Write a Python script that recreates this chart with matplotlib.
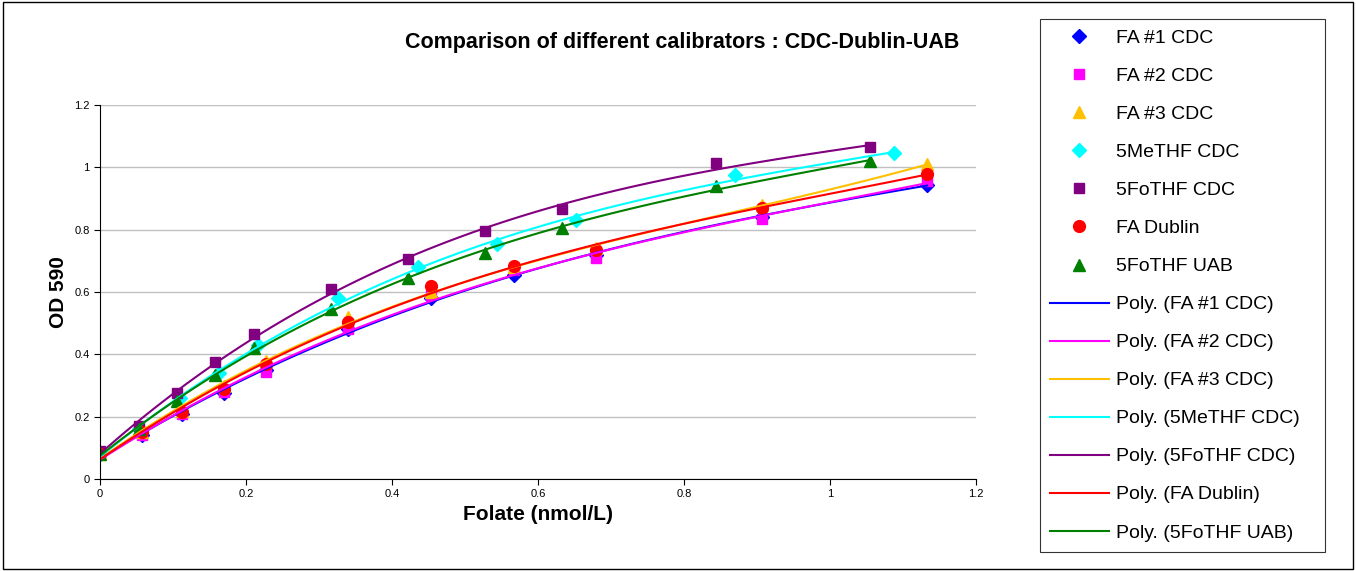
import numpy as np
import matplotlib
matplotlib.use("Agg")
import matplotlib.pyplot as plt

plt.rcParams["font.family"] = ["Liberation Sans", "DejaVu Sans"]

x_fa = [0, 0.057, 0.113, 0.17, 0.227, 0.34, 0.453, 0.567, 0.68, 0.907, 1.133]
x_me = [0, 0.054, 0.109, 0.163, 0.217, 0.326, 0.435, 0.544, 0.652, 0.87, 1.087]
x_fo = [0, 0.053, 0.105, 0.158, 0.211, 0.316, 0.422, 0.527, 0.633, 0.844, 1.055]

fa1_cdc = [0.08, 0.14, 0.21, 0.275, 0.35, 0.48, 0.58, 0.655, 0.72, 0.84, 0.945]
fa2_cdc = [0.08, 0.14, 0.21, 0.28, 0.345, 0.48, 0.59, 0.67, 0.71, 0.835, 0.955]
fa3_cdc = [0.08, 0.15, 0.22, 0.30, 0.38, 0.52, 0.60, 0.68, 0.74, 0.88, 1.01]
me_cdc = [0.08, 0.16, 0.26, 0.34, 0.43, 0.58, 0.68, 0.755, 0.83, 0.975, 1.045]
fo_cdc = [0.09, 0.17, 0.275, 0.375, 0.465, 0.61, 0.705, 0.795, 0.865, 1.015, 1.065]
fa_dublin = [0.08, 0.15, 0.215, 0.29, 0.37, 0.505, 0.62, 0.685, 0.735, 0.87, 0.98]
fo_uab = [0.08, 0.16, 0.25, 0.335, 0.42, 0.545, 0.645, 0.725, 0.805, 0.94, 1.02]

series = [
    ("FA #1 CDC", x_fa, fa1_cdc, "#0000FF", "D", 7),
    ("FA #2 CDC", x_fa, fa2_cdc, "#FF00FF", "s", 7.5),
    ("FA #3 CDC", x_fa, fa3_cdc, "#FFC000", "^", 9),
    ("5MeTHF CDC", x_me, me_cdc, "#00FFFF", "D", 7),
    ("5FoTHF CDC", x_fo, fo_cdc, "#800080", "s", 7.5),
    ("FA Dublin", x_fa, fa_dublin, "#FF0000", "o", 8.5),
    ("5FoTHF UAB", x_fo, fo_uab, "#008000", "^", 9),
]

fig = plt.figure(figsize=(13.56, 5.71), dpi=100)
ax = fig.add_axes([0.0737, 0.161, 0.6461, 0.655])

marker_handles, line_handles = [], []
for name, xs, ys, col, mk, ms in series:
    h, = ax.plot(xs, ys, linestyle="none", marker=mk, color=col, markersize=ms, label=name)
    marker_handles.append(h)
for name, xs, ys, col, mk, ms in series:
    coef = np.polyfit(xs, ys, 3)
    xx = np.linspace(0, max(xs), 100)
    h, = ax.plot(xx, np.polyval(coef, xx), color=col, lw=1.5, label=f"Poly. ({name})")
    line_handles.append(h)

ax.set_xlim(0, 1.2)
ax.set_ylim(0, 1.2)
ax.set_xticks(np.arange(0, 1.21, 0.2))
ax.set_yticks(np.arange(0, 1.21, 0.2))
ax.set_xticklabels(["0", "0.2", "0.4", "0.6", "0.8", "1", "1.2"])
ax.set_yticklabels(["0", "0.2", "0.4", "0.6", "0.8", "1", "1.2"])
ax.tick_params(labelsize=8, direction="out", length=4)
ax.grid(axis="y", color="#C0C0C0", lw=1)
ax.set_axisbelow(True)
for s in ["top", "right"]:
    ax.spines[s].set_visible(False)
ax.set_xlabel("Folate (nmol/L)", fontsize=15, fontweight="bold")
ax.set_ylabel("OD 590", fontsize=15, fontweight="bold")
fig.text(0.503, 0.926, "Comparison of different calibrators : CDC-Dublin-UAB",
         ha="center", va="center", fontsize=15.5, fontweight="bold")

leg = fig.legend(marker_handles + line_handles,
                 [h.get_label() for h in marker_handles + line_handles],
                 loc="upper left", bbox_to_anchor=(0.7595, 0.984, 0.225, 0.0),
                 mode="expand", fontsize=14, frameon=True, fancybox=False,
                 edgecolor="black", labelspacing=1.05, handlelength=3,
                 handletextpad=0.4, borderpad=0.55, markerfirst=True)
leg.get_frame().set_linewidth(0.8)

fig.patches.append(plt.Rectangle((0.002, 0.003), 0.996, 0.994, transform=fig.transFigure,
                                 fill=False, edgecolor="black", lw=1))
fig.savefig("out.png", dpi=100)
